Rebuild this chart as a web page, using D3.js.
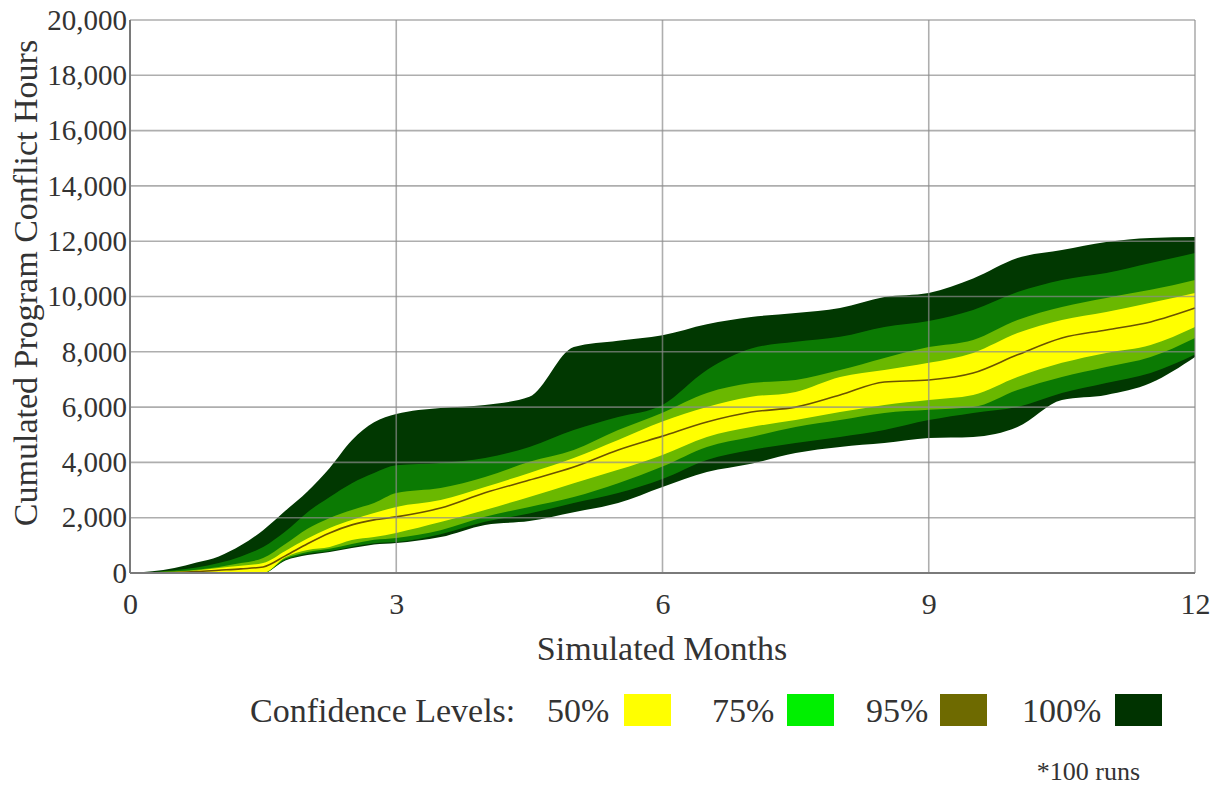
<!DOCTYPE html>
<html>
<head>
<meta charset="utf-8">
<script src="https://cdn.jsdelivr.net/npm/d3@7/dist/d3.min.js"></script>
<style>
  html, body { margin: 0; padding: 0; background: #ffffff; }
  svg { display: block; }
  text { font-family: "Liberation Serif", "Times New Roman", serif; fill: #333333; }
</style>
</head>
<body>
<svg id="chart" width="1223" height="790"></svg>
<script>
// ---- Data ----
const months   = [0,0.25,0.5,0.75,1,1.25,1.5,1.75,2,2.25,2.5,2.75,3,3.5,4,4.5,5,5.5,6,6.5,7,7.5,8,8.5,9,9.5,10,10.5,11,11.5,12];
const upper100 = [0,60,180,380,600,1000,1550,2250,2950,3800,4800,5450,5750,5970,6080,6370,8170,8400,8600,9000,9260,9400,9580,9980,10130,10650,11390,11680,11970,12120,12150];
const upper95  = [0,30,100,200,360,600,940,1500,2200,2750,3250,3620,3900,3980,4160,4560,5170,5640,6080,7340,8120,8360,8540,8900,9110,9510,10160,10600,10850,11210,11570];
const upper75  = [0,20,60,120,220,360,540,1050,1600,1990,2280,2530,2890,3070,3470,4020,4450,5170,5800,6510,6870,6980,7340,7780,8170,8430,9150,9620,9950,10240,10600];
const upper50  = [0,10,40,90,180,260,360,800,1250,1630,1920,2170,2390,2640,3110,3620,4160,4810,5480,6000,6370,6550,7090,7340,7600,7960,8680,9150,9440,9770,10130];
const median   = [0,5,20,50,100,150,220,620,1060,1450,1740,1920,2030,2350,2900,3360,3830,4450,4950,5460,5820,6000,6440,6910,6980,7230,7890,8500,8790,9080,9580];
const lower50  = [0,0,0,0,0,0,0,570,830,940,1190,1300,1450,1840,2280,2750,3250,3730,4270,4920,5280,5530,5820,6080,6260,6440,7090,7600,7960,8250,8900];
const lower75  = [0,0,0,0,0,0,0,520,760,880,1050,1200,1270,1550,2030,2390,2750,3250,3850,4560,4920,5280,5530,5790,5900,6000,6620,7090,7450,7810,8500];
const lower95  = [0,0,0,0,0,0,0,480,700,800,950,1080,1120,1400,1850,2150,2530,2890,3400,4090,4450,4700,4920,5170,5530,5790,6000,6510,6870,7230,7900];
const lower100 = [0,0,0,0,0,0,0,450,650,760,900,1030,1085,1300,1740,1880,2200,2530,3110,3650,3950,4340,4560,4700,4880,4920,5280,6260,6440,6870,7810];

const xTicks = [0,3,6,9,12];
const yTicks = [0,2000,4000,6000,8000,10000,12000,14000,16000,18000,20000];
const legendLabels = ["50%","75%","95%","100%"];
const legendColors = ["#ffff00","#00f000","#6e6a00","#003300"];

(function () {
// ---- Layout ----
const svg = d3.select("#chart");
const mLeft = 130, mRight = 1195, mTop = 20, mBottom = 573;
const x = d3.scaleLinear().domain([0,12]).range([mLeft,mRight]);
const y = d3.scaleLinear().domain([0,20000]).range([mBottom,mTop]);

// bands: outer to inner
const bands = [
  {lo: lower100, hi: upper100, color: "#013801"},
  {lo: lower95,  hi: upper95,  color: "#0b7a03"},
  {lo: lower75,  hi: upper75,  color: "#6ab800"},
  {lo: lower50,  hi: upper50,  color: "#ffff00"}
];

const plot = svg.append("g");
bands.forEach(b => {
  const area = d3.area()
    .x((d,i) => x(months[i]))
    .y0((d,i) => y(b.lo[i]))
    .y1((d,i) => y(b.hi[i]))
    .curve(d3.curveMonotoneX);
  plot.append("path").datum(months).attr("d", area).attr("fill", b.color);
});

const line = d3.line()
  .x((d,i) => x(months[i]))
  .y((d,i) => y(median[i]))
  .curve(d3.curveMonotoneX);
plot.append("path").datum(months).attr("d", line)
  .attr("fill","none").attr("stroke","#6b5300").attr("stroke-width",1.6);

// grid lines (drawn over the bands)
const grid = svg.append("g").attr("stroke","#8c8c8c").attr("stroke-opacity",0.7).attr("stroke-width",1.6);
grid.selectAll(".hg").data(yTicks).join("line")
  .attr("x1", mLeft).attr("x2", mRight)
  .attr("y1", d => y(d)).attr("y2", d => y(d));
grid.selectAll(".vg").data(xTicks.filter(d => d > 0)).join("line")
  .attr("x1", d => x(d)).attr("x2", d => x(d))
  .attr("y1", mTop).attr("y2", mBottom);

// axes lines
svg.append("line").attr("x1",mLeft).attr("x2",mLeft).attr("y1",mTop).attr("y2",mBottom)
  .attr("stroke","#7a7a7a").attr("stroke-width",2);
svg.append("line").attr("x1",mLeft).attr("x2",mRight).attr("y1",mBottom).attr("y2",mBottom)
  .attr("stroke","#7a7a7a").attr("stroke-width",2);

// axis tick labels
const yAxis = svg.append("g").attr("transform",`translate(${mLeft},0)`)
  .call(d3.axisLeft(y).tickValues(yTicks).tickSize(0).tickPadding(3).tickFormat(d3.format(",")));
yAxis.select(".domain").remove();
yAxis.selectAll("text").style("font-size","29px").attr("fill","#333333")
  .style("font-family","'Liberation Serif', serif");

const xAxis = svg.append("g").attr("transform",`translate(0,${mBottom})`)
  .call(d3.axisBottom(x).tickValues(xTicks).tickSize(0).tickPadding(20).tickFormat(d3.format("d")));
xAxis.select(".domain").remove();
xAxis.selectAll("text").style("font-size","30px").attr("fill","#333333")
  .style("font-family","'Liberation Serif', serif");

// axis titles
svg.append("text").attr("x", 662).attr("y", 660).attr("text-anchor","middle")
  .style("font-size","34px").text("Simulated Months");
svg.append("text").attr("transform","translate(37,283) rotate(-90)").attr("text-anchor","middle")
  .style("font-size","34px").text("Cumulated Program Conflict Hours");

// legend
svg.append("text").attr("x", 250).attr("y", 722).style("font-size","34px").text("Confidence Levels:");
const legX = [547, 712, 866, 1022];
const swX  = [624, 787, 940, 1115];
legendLabels.forEach((lab, i) => {
  svg.append("text").attr("x", legX[i]).attr("y", 722).style("font-size","34px").text(lab);
  svg.append("rect").attr("x", swX[i]).attr("y", 694).attr("width", 47).attr("height", 32)
    .attr("fill", legendColors[i]);
});

svg.append("text").attr("x", 1140).attr("y", 780).attr("text-anchor","end")
  .style("font-size","26px").text("*100 runs");
})();
</script>
</body>
</html>
